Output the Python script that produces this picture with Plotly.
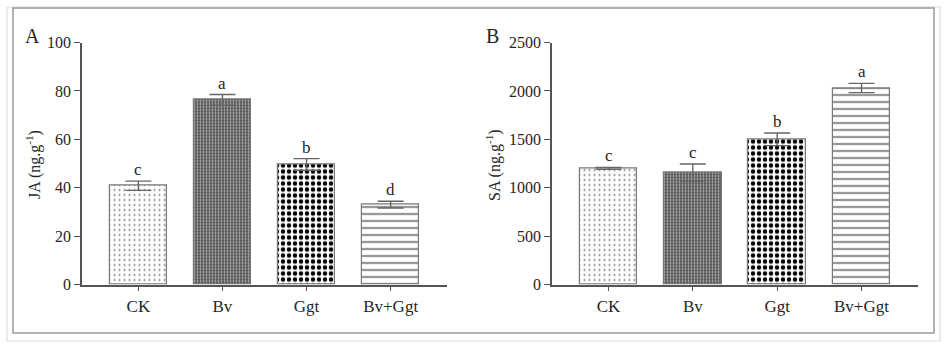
import plotly.graph_objects as go

categories = ["CK", "Bv", "Ggt", "Bv+Ggt"]
ja_values = [40.8, 76.3, 49.6, 33.0]
ja_errors = [1.9, 2.2, 2.4, 1.4]
ja_letters = ["c", "a", "b", "d"]
sa_values = [1200, 1155, 1500, 2030]
sa_errors = [10, 90, 65, 48]
sa_letters = ["c", "c", "b", "a"]
ja_ticks = [0, 20, 40, 60, 80, 100]
sa_ticks = [0, 500, 1000, 1500, 2000, 2500]

W, H = 945, 346
FONT = "Liberation Serif, Times New Roman, serif"
TXT = "#262626"
AX = "#555555"

patterns = [
    dict(shape=".", size=5, solidity=0.14, fgcolor="#808080", bgcolor="white", fillmode="replace"),
    dict(shape=".", size=3, solidity=0.3, fgcolor="#c0c0c0", bgcolor="#555555", fillmode="replace"),
    dict(shape=".", size=6, solidity=0.45, fgcolor="#000000", bgcolor="white", fillmode="replace"),
    dict(shape="-", size=7, solidity=0.2, fgcolor="#555555", bgcolor="white", fillmode="replace"),
]

fig = go.Figure()


def add_panel(values, errors, xa, ya):
    for i, cat in enumerate(categories):
        fig.add_trace(go.Bar(
            x=[cat], y=[values[i]], width=0.68,
            xaxis=xa, yaxis=ya,
            marker=dict(color="white", pattern=patterns[i],
                        line=dict(color="#777777", width=1.2)),
            error_y=dict(type="data", array=[errors[i]], visible=True,
                         color="#666666", thickness=1.4, width=13),
            showlegend=False,
        ))


add_panel(ja_values, ja_errors, "x", "y")
add_panel(sa_values, sa_errors, "x2", "y2")

ydom = [(H - 284.5) / H, (H - 42.5) / H]


def xaxis(dom):
    return dict(domain=dom, type="category", categoryorder="array", categoryarray=categories,
                range=[-0.67, 3.67], showline=True, linecolor=AX, linewidth=1.5,
                ticks="outside", ticklen=5, tickcolor=AX, tickwidth=1.2,
                tickfont=dict(family=FONT, size=17, color=TXT), showgrid=False,
                zeroline=False, fixedrange=True, automargin=False)


def yaxis(dom, rng, ticks, anchor):
    return dict(domain=dom, range=rng, tickvals=ticks, showline=True, linecolor=AX,
                linewidth=1.5, ticks="outside", ticklen=6, tickcolor=AX, tickwidth=1.2,
                tickfont=dict(family=FONT, size=16, color=TXT), showgrid=False,
                zeroline=False, anchor=anchor, automargin=False)


annotations = []


def letters(values, errors, lets, xa, ya):
    for i, cat in enumerate(categories):
        annotations.append(dict(x=cat, y=values[i] + errors[i], xref=xa, yref=ya,
                                text=lets[i], showarrow=False, xanchor="center",
                                yanchor="bottom", yshift=0,
                                font=dict(family=FONT, size=17, color=TXT)))


letters(ja_values, ja_errors, ja_letters, "x", "y")
letters(sa_values, sa_errors, sa_letters, "x2", "y2")


def paper_text(x, y, text, size, angle=0):
    annotations.append(dict(x=x / W, y=(H - y) / H, xref="paper", yref="paper",
                            text=text, showarrow=False, textangle=angle,
                            xanchor="center", yanchor="middle",
                            font=dict(family=FONT, size=size, color=TXT)))


paper_text(33, 165, "JA (ng.g<sup>-1</sup>)", 16, -90)
paper_text(493, 165, "SA (ng.g<sup>-1</sup>)", 16, -90)
paper_text(32, 36, "A", 20)
paper_text(493, 36, "B", 20)

shapes = [
    dict(type="rect", xref="paper", yref="paper", x0=7 / W, x1=940 / W,
         y0=(H - 341) / H, y1=(H - 7) / H, line=dict(color="#dddddd", width=1.2), layer="below"),
    dict(type="rect", xref="paper", yref="paper", x0=13 / W, x1=934 / W,
         y0=(H - 333) / H, y1=(H - 8) / H, line=dict(color="#999999", width=1.5), layer="below"),
]

fig.update_layout(
    width=W, height=H, margin=dict(l=0, r=0, t=0, b=0, autoexpand=False),
    paper_bgcolor="white", plot_bgcolor="white", bargap=0,
    xaxis=xaxis([82 / W, 447 / W]) | dict(anchor="y"),
    yaxis=yaxis(ydom, [0, 100], ja_ticks, "x"),
    xaxis2=xaxis([552 / W, 918 / W]) | dict(anchor="y2"),
    yaxis2=yaxis(ydom, [0, 2500], sa_ticks, "x2"),
    annotations=annotations, shapes=shapes,
    showlegend=False,
)

fig.write_html("out.html")
